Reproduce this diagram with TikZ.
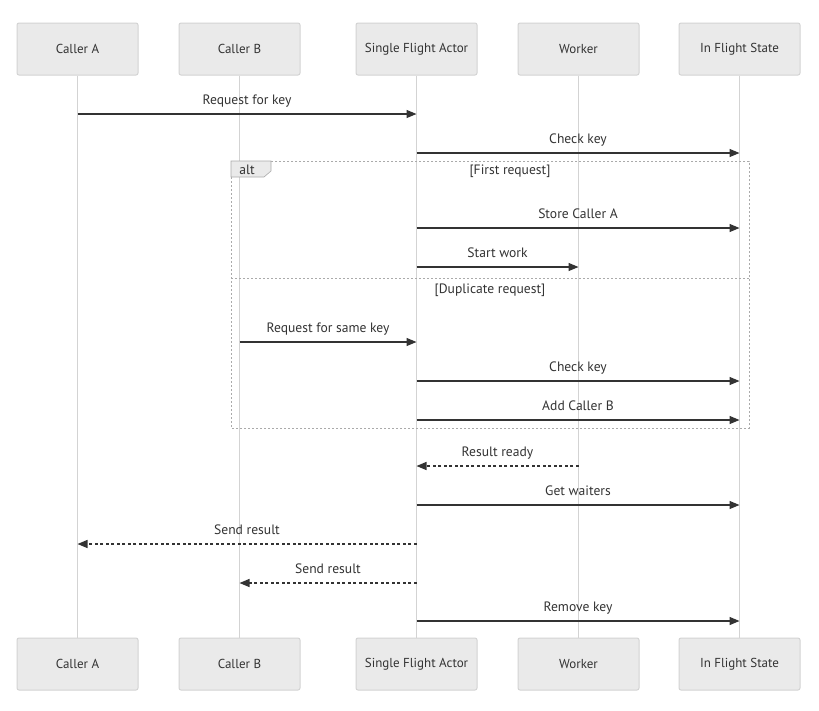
\documentclass[tikz,border=0pt]{standalone}
\usepackage{fontspec}
\setmainfont{PT Sans}
\usetikzlibrary{arrows.meta, positioning}
\definecolor{actorfill}{HTML}{EAEAEA}
\definecolor{actorline}{HTML}{D3D3D3}
\definecolor{lifegrey}{HTML}{D3D3D3}
\definecolor{msgdark}{HTML}{333333}
\definecolor{altgrey}{HTML}{AAAAAA}
\definecolor{textdark}{HTML}{333333}
\tikzset{
  sdactor/.style={rectangle, draw=actorline, fill=actorfill, line width=1pt,
                  rounded corners=2pt, minimum width=121pt, minimum height=52pt,
                  align=center, text=textdark, font=\fontsize{13}{15}\selectfont},
  lifeline/.style={draw=lifegrey, line width=1.8pt},
  sdmsg/.style={-{Triangle[length=10pt,width=8pt]}, line width=1.3pt, draw=msgdark},
  sdret/.style={-{Triangle[length=10pt,width=8pt]}, line width=1.3pt, draw=msgdark,
                dash pattern=on 3pt off 2.5pt},
  sdlab/.style={anchor=base, yshift=9.5pt, inner sep=0pt, text=textdark,
                font=\fontsize{13.6}{16}\selectfont},
  altframe/.style={draw=altgrey, line width=1pt, dash pattern=on 2pt off 2pt},
  alttab/.style={fill=actorfill, draw=altgrey, line width=0.6pt},
  altlab/.style={inner sep=0pt, text=textdark, font=\fontsize{13.6}{16}\selectfont},
}
\begin{document}
\begin{tikzpicture}[x=1pt, y=-1pt]
  \useasboundingbox[fill=white] (0,0) rectangle (819,710);

  % --- Actors, top and bottom rows ---
  \node[sdactor] (ca)  at (77.5, 49)  {Caller A};
  \node[sdactor] (cb)  at (239.5, 49) {Caller B};
  \node[sdactor] (sfa) at (416.5, 49) {Single Flight Actor};
  \node[sdactor] (wk)  at (578.5, 49) {Worker};
  \node[sdactor] (ifs) at (739.5, 49) {In Flight State};

  \node[sdactor] (caB)  at (77.5, 664)  {Caller A};
  \node[sdactor] (cbB)  at (239.5, 664) {Caller B};
  \node[sdactor] (sfaB) at (416.5, 664) {Single Flight Actor};
  \node[sdactor] (wkB)  at (578.5, 664) {Worker};
  \node[sdactor] (ifsB) at (739.5, 664) {In Flight State};

  \foreach \a in {ca,cb,sfa,wk,ifs}{\draw[lifeline] (\a.south) -- (\a B.north);}

  % --- alt frame ---
  \draw[altframe] (231,161) rectangle (749,428);
  \draw[altframe] (231,278) -- (749,278);
  \draw[alttab] (231,161) -- (271,161) -- (271,171) -- (264,177) -- (231,177) -- cycle;
  \node[altlab] (altname) at (247,170) {alt};
  \node[altlab] (firstreq) at (510,171.5) {[First request]};
  \node[altlab] (dupreq) at (490,290.5) {[Duplicate request]};

  % --- Messages ---
  \draw[sdmsg] (ca.center |- 0,114) -- (sfa.center |- 0,114) node[sdlab, midway]{Request for key};
  \draw[sdmsg] (sfa.center |- 0,153) -- (ifs.center |- 0,153) node[sdlab, midway]{Check key};
  \draw[sdmsg] (sfa.center |- 0,228) -- (ifs.center |- 0,228) node[sdlab, midway]{Store Caller A};
  \draw[sdmsg] (sfa.center |- 0,267) -- (wk.center |- 0,267)  node[sdlab, midway]{Start work};
  \draw[sdmsg] (cb.center |- 0,342)  -- (sfa.center |- 0,342) node[sdlab, midway]{Request for same key};
  \draw[sdmsg] (sfa.center |- 0,381) -- (ifs.center |- 0,381) node[sdlab, midway]{Check key};
  \draw[sdmsg] (sfa.center |- 0,420) -- (ifs.center |- 0,420) node[sdlab, midway]{Add Caller B};
  \draw[sdret] (wk.center |- 0,466)  -- (sfa.center |- 0,466) node[sdlab, midway]{Result ready};
  \draw[sdmsg] (sfa.center |- 0,505) -- (ifs.center |- 0,505) node[sdlab, midway]{Get waiters};
  \draw[sdret] (sfa.center |- 0,544) -- (ca.center |- 0,544)  node[sdlab, midway]{Send result};
  \draw[sdret] (sfa.center |- 0,583) -- (cb.center |- 0,583)  node[sdlab, midway]{Send result};
  \draw[sdmsg] (sfa.center |- 0,621) -- (ifs.center |- 0,621) node[sdlab, midway]{Remove key};

\end{tikzpicture}
\end{document}
